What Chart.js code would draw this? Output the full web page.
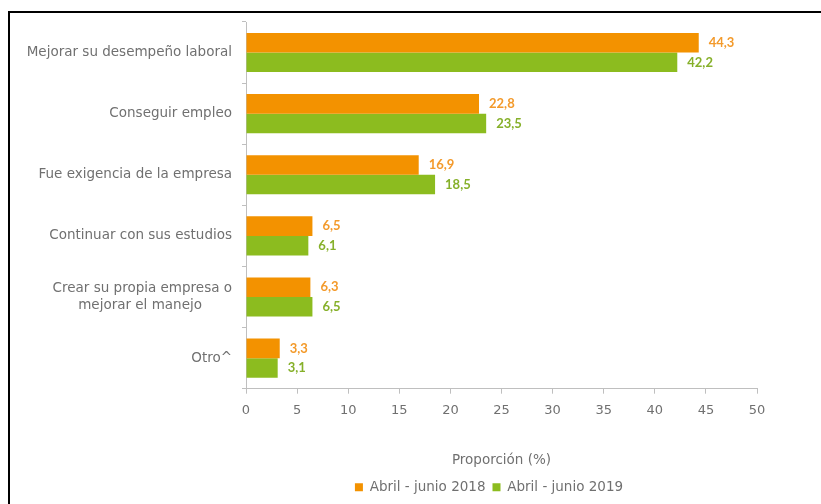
<!DOCTYPE html>
<html>
<head>
<meta charset="utf-8">
<script src="https://cdn.jsdelivr.net/npm/chart.js@4.4.1/dist/chart.umd.min.js"></script>
<style>
  html, body { margin: 0; padding: 0; background: #fff; overflow: hidden; }
  #frame { position: absolute; left: 8px; top: 11px; width: 900px; height: 600px;
           border: 2px solid #000; box-sizing: border-box; }
  #wrap { position: absolute; left: 0; top: 0; width: 821px; height: 504px; }
</style>
</head>
<body>
<div id="frame"></div>
<div id="wrap"><canvas id="chart"></canvas></div>
<script>
// motivos de capacitación
const categories = [
  'Mejorar su desempeño laboral',
  'Conseguir empleo',
  'Fue exigencia de la empresa',
  'Continuar con sus estudios',
  ['Crear su propia empresa o', 'mejorar el manejo       '],
  'Otro^'
];
const series2018 = [44.3, 22.8, 16.9, 6.5, 6.3, 3.3];
const series2019 = [42.2, 23.5, 18.5, 6.1, 6.5, 3.1];
const seriesNames = ['Abril - junio 2018', 'Abril - junio 2019'];
const xTicks = [0, 5, 10, 15, 20, 25, 30, 35, 40, 45, 50];

const ORANGE = '#f39200';
const GREEN = '#8cbc1f';
const TEXT = '#707070';
const FONT = '"DejaVu Sans", sans-serif';

// value labels at bar ends
const valueLabels = {
  id: 'valueLabels',
  afterDatasetsDraw(chart) {
    const ctx = chart.ctx;
    ctx.save();
    ctx.font = 'bold 13px Lato, sans-serif';
    ctx.textBaseline = 'middle';
    ctx.textAlign = 'left';
    chart.data.datasets.forEach((ds, i) => {
      ctx.fillStyle = ds.labelColor;
      chart.getDatasetMeta(i).data.forEach((bar, j) => {
        ctx.fillText(ds.data[j].toFixed(1).replace('.', ','), bar.x + 10, bar.y);
      });
    });
    ctx.restore();
  }
};

// legend sits a bit left of the canvas centre, roughly under the plot
const legendShift = {
  id: 'legendShift',
  afterLayout(chart) {
    chart.legend.left = 221;
    chart.legend.right = 757;
  }
};

new Chart(document.getElementById('chart'), {
  type: 'bar',
  data: {
    labels: categories,
    datasets: [
      { label: seriesNames[0], data: series2018, backgroundColor: ORANGE, labelColor: '#f39a2b' },
      { label: seriesNames[1], data: series2019, backgroundColor: GREEN, labelColor: '#86b02a' }
    ]
  },
  options: {
    indexAxis: 'y',
    responsive: true,
    maintainAspectRatio: false,
    animation: false,
    datasets: { bar: { barPercentage: 1, categoryPercentage: 0.64 } },
    layout: { padding: { top: 22, right: 64, bottom: 0, left: 0 } },
    plugins: {
      legend: {
        position: 'bottom',
        labels: { color: TEXT, boxWidth: 8, boxHeight: 8, padding: 7, font: { size: 13.5, family: FONT } }
      },
      tooltip: { enabled: false }
    },
    scales: {
      x: {
        min: 0, max: 50,
        afterBuildTicks: (scale) => { scale.ticks = xTicks.map(v => ({ value: v })); },
        border: { color: '#bfbfbf' },
        grid: { drawOnChartArea: false, tickLength: 5, color: '#bfbfbf' },
        ticks: { color: TEXT, padding: 9, font: { size: 13, family: FONT } },
        title: {
          display: true, text: 'Proporción (%)', color: TEXT,
          font: { size: 13.5, family: FONT }, padding: { top: 25, bottom: 5 }
        }
      },
      y: {
        afterFit: (scale) => { scale.width = 246; },
        border: { color: '#bfbfbf' },
        grid: { offset: true, drawOnChartArea: false, tickLength: 4, color: '#bfbfbf' },
        ticks: { color: TEXT, padding: 10, font: { size: 13.5, family: FONT, lineHeight: 1.3 } }
      }
    }
  },
  plugins: [valueLabels, legendShift]
});
</script>
</body>
</html>
